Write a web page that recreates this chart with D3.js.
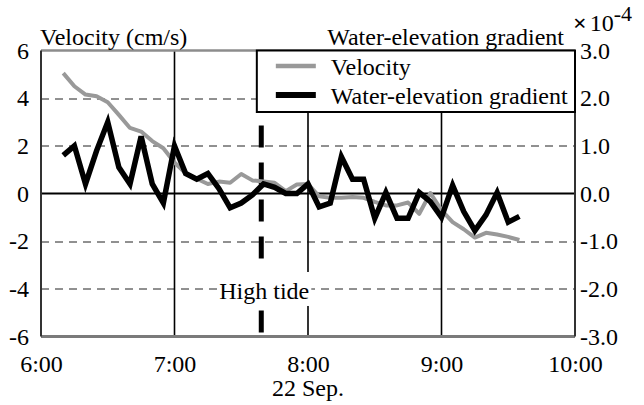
<!DOCTYPE html>
<html>
<head>
<meta charset="utf-8">
<script src="https://d3js.org/d3.v7.min.js"></script>
<style>
body { margin:0; background:#fff; }
</style>
</head>
<body>
<svg id="graph1"></svg>
<script>

// 5-minute samples, 22 Sep.
var times = ["6:10","6:15","6:20","6:25","6:30","6:35","6:40","6:45","6:50","6:55",
             "7:00","7:05","7:10","7:15","7:20","7:25","7:30","7:35","7:40","7:45","7:50","7:55",
             "8:00","8:05","8:10","8:15","8:20","8:25","8:30","8:35","8:40","8:45","8:50","8:55",
             "9:00","9:05","9:10","9:15","9:20","9:25","9:30","9:35"]

// cm/s
var velocity = [5.05,4.5,4.15,4.08,3.83,3.3,2.75,2.6,2.2,1.9,
                1.3,0.85,0.62,0.4,0.5,0.45,0.82,0.55,0.5,0.45,0.1,0.38,
                0.4,-0.12,-0.18,-0.18,-0.15,-0.18,-0.35,-0.5,-0.5,-0.38,-0.85,0.02,
                -0.7,-1.2,-1.5,-1.85,-1.65,-1.72,-1.82,-1.95]

// x 10^-4
var gradient = [0.8,1.0,0.2,0.9,1.5,0.55,0.2,1.2,0.2,-0.2,
                1.0,0.42,0.3,0.42,0.1,-0.3,-0.2,-0.03,0.2,0.13,0.0,0.0,
                0.2,-0.28,-0.2,0.77,0.3,0.3,-0.52,0.02,-0.52,-0.52,0.02,-0.17,
                -0.5,0.17,-0.38,-0.78,-0.45,0.02,-0.6,-0.48]

var xTicks = ["6:00","7:00","8:00","9:00","10:00"]
var leftTicks = [6,4,2,0,-2,-4,-6]
var rightTicks = [3,2,1,0,-1,-2,-3]
var highTide = "7:39"

var font = "'Liberation Serif'"

var screen = {width:644, height:405}
var margins = {left:41, right:69, top:50.5, bottom:68.5}
var graph = {
    width: screen.width - margins.left - margins.right,
    height: screen.height - margins.top - margins.bottom
}

var parseTime = d3.timeParse("%d %b %Y %H:%M")
var toDate = function(t) { return parseTime("22 Sep 2000 " + t) }

var svg = d3.select("#graph1")
    .attr("width", screen.width)
    .attr("height", screen.height)

var xScale = d3.scaleTime()
    .domain([toDate("6:00"), toDate("10:00")])
    .range([0, graph.width])

var yLeft = d3.scaleLinear()
    .domain([-6, 6])
    .range([graph.height, 0])

var yRight = d3.scaleLinear()
    .domain([-3, 3])
    .range([graph.height, 0])

var target = svg.append("g")
    .attr("transform", "translate(" + margins.left + "," + margins.top + ")")

var drawGrid = function()
{
    var grid = target.append("g")

    grid.selectAll("line.h")
        .data(leftTicks.filter(function(d) { return d != 0 && Math.abs(d) != 6 }))
        .enter()
        .append("line")
        .attr("x1", 0)
        .attr("x2", graph.width)
        .attr("y1", function(d) { return Math.round(yLeft(d)) + 0.5 })
        .attr("y2", function(d) { return Math.round(yLeft(d)) + 0.5 })
        .attr("stroke", "#222")
        .attr("stroke-width", 1)
        .attr("stroke-dasharray", "8,6")

    grid.selectAll("line.v")
        .data(xTicks.slice(1, 4))
        .enter()
        .append("line")
        .attr("x1", function(d) { return xScale(toDate(d)) })
        .attr("x2", function(d) { return xScale(toDate(d)) })
        .attr("y1", 0)
        .attr("y2", graph.height)
        .attr("stroke", "#000")
        .attr("stroke-width", 1.6)

    grid.append("line")
        .attr("x1", 0)
        .attr("x2", graph.width)
        .attr("y1", yLeft(0))
        .attr("y2", yLeft(0))
        .attr("stroke", "#000")
        .attr("stroke-width", 2)

    // frame
    grid.append("line")
        .attr("x1", 0).attr("x2", graph.width)
        .attr("y1", 0).attr("y2", 0)
        .attr("stroke", "#8c8c8c").attr("stroke-width", 2.5)
    grid.append("line")
        .attr("x1", 0).attr("x2", graph.width)
        .attr("y1", graph.height).attr("y2", graph.height)
        .attr("stroke", "#7a7a7a").attr("stroke-width", 3)
    grid.append("line")
        .attr("x1", 0).attr("x2", 0)
        .attr("y1", 0).attr("y2", graph.height)
        .attr("stroke", "#333").attr("stroke-width", 2)
    grid.append("line")
        .attr("x1", graph.width).attr("x2", graph.width)
        .attr("y1", 0).attr("y2", graph.height)
        .attr("stroke", "#333").attr("stroke-width", 2)
}

var drawHighTide = function()
{
    var hx = xScale(toDate(highTide))
    var ty = yLeft(-4.3)

    target.append("line")
        .attr("x1", hx).attr("x2", hx)
        .attr("y1", yLeft(2.85)).attr("y2", graph.height)
        .attr("stroke", "#000")
        .attr("stroke-width", 5)
        .attr("stroke-dasharray", "22,15")

    target.append("rect")
        .attr("x", hx - 44)
        .attr("y", ty - 24)
        .attr("width", 94)
        .attr("height", 34)
        .attr("fill", "#fff")

    target.append("text")
        .text("High tide")
        .attr("x", hx + 3)
        .attr("y", ty + 3)
        .attr("text-anchor", "middle")
}

var drawLines = function()
{
    var velLine = d3.line()
        .x(function(d, i) { return xScale(toDate(times[i])) })
        .y(function(d) { return yLeft(d) })

    var gradLine = d3.line()
        .x(function(d, i) { return xScale(toDate(times[i])) })
        .y(function(d) { return yRight(d) })

    target.append("path")
        .datum(velocity)
        .attr("d", velLine)
        .attr("fill", "none")
        .attr("stroke", "#999")
        .attr("stroke-width", 4)
        .attr("stroke-linejoin", "round")

    target.append("path")
        .datum(gradient)
        .attr("d", gradLine)
        .attr("fill", "none")
        .attr("stroke", "#000")
        .attr("stroke-width", 5.5)
        .attr("stroke-linejoin", "miter")
}

var drawLegend = function()
{
    var lx = xScale(toDate("7:37"))
    var legend = target.append("g")

    legend.append("rect")
        .attr("x", lx)
        .attr("y", 0)
        .attr("width", graph.width - lx)
        .attr("height", 61.5)
        .attr("fill", "#fff")
        .attr("stroke", "#000")
        .attr("stroke-width", 2)

    var entries = [
        {name:"Velocity", color:"#999", w:4.5},
        {name:"Water-elevation gradient", color:"#000", w:6}
    ]

    var rows = legend.selectAll("g.entry")
        .data(entries)
        .enter()
        .append("g")
        .attr("transform", function(d, i) { return "translate(" + (lx + 19) + "," + (15.5 + i * 29) + ")" })

    rows.append("line")
        .attr("x1", 0).attr("x2", 40)
        .attr("y1", 0).attr("y2", 0)
        .attr("stroke", function(d) { return d.color })
        .attr("stroke-width", function(d) { return d.w })

    rows.append("text")
        .text(function(d) { return d.name })
        .attr("x", 55)
        .attr("y", 9)
}

var drawAxes = function()
{
    var xAxis = d3.axisBottom(xScale)
        .tickValues(xTicks.map(toDate))
        .tickFormat(d3.timeFormat("%-H:%M"))
        .tickSize(0)
        .tickPadding(0)

    var leftAxis = d3.axisLeft(yLeft)
        .tickValues(leftTicks)
        .tickFormat(d3.format("d"))
        .tickSize(0)
        .tickPadding(12)

    var rightAxis = d3.axisRight(yRight)
        .tickValues(rightTicks)
        .tickFormat(d3.format(".1f"))
        .tickSize(0)
        .tickPadding(5)

    svg.append("g")
        .attr("transform", "translate(" + margins.left + "," + (margins.top + graph.height + 18) + ")")
        .call(xAxis)
    var gl = svg.append("g")
        .attr("transform", "translate(" + margins.left + "," + margins.top + ")")
        .call(leftAxis)
    var gr = svg.append("g")
        .attr("transform", "translate(" + (margins.left + graph.width) + "," + margins.top + ")")
        .call(rightAxis)

    svg.selectAll(".domain").remove()
    svg.selectAll(".tick text").attr("fill", "#000")
    gl.selectAll(".tick text").text(function(d) { return d < 0 ? "-" + Math.abs(d) : d })
    gr.selectAll(".tick text").text(function(d) { return d < 0 ? "-" + d3.format(".1f")(Math.abs(d)) : d3.format(".1f")(d) })
}

var drawLabels = function()
{
    var labels = svg.append("g")

    labels.append("text")
        .text("Velocity (cm/s)")
        .attr("x", margins.left - 1)
        .attr("y", 45)

    labels.append("text")
        .text("Water-elevation gradient")
        .attr("x", 564)
        .attr("y", 45)
        .attr("text-anchor", "end")

    var mult = labels.append("text")
        .attr("x", 573)
        .attr("y", 31)
    mult.append("tspan").text("\u00d7").style("font-weight", "bold")
    mult.append("tspan").text("10").attr("dx", 3)
    mult.append("tspan").text("-4").attr("dy", -10).style("font-size", "22px")

    labels.append("text")
        .text("22 Sep.")
        .attr("x", margins.left + xScale(toDate("8:00")))
        .attr("y", 396)
        .attr("text-anchor", "middle")
}

drawGrid()
drawHighTide()
drawLines()
drawLegend()
drawAxes()
drawLabels()

svg.selectAll("g").attr("font-family", null).attr("font-size", null)
svg.selectAll("text")
    .style("font-family", font)
    .style("font-size", function() { return this.style.fontSize || "24px" })
    .attr("fill", "#000")

</script>
</body>
</html>
